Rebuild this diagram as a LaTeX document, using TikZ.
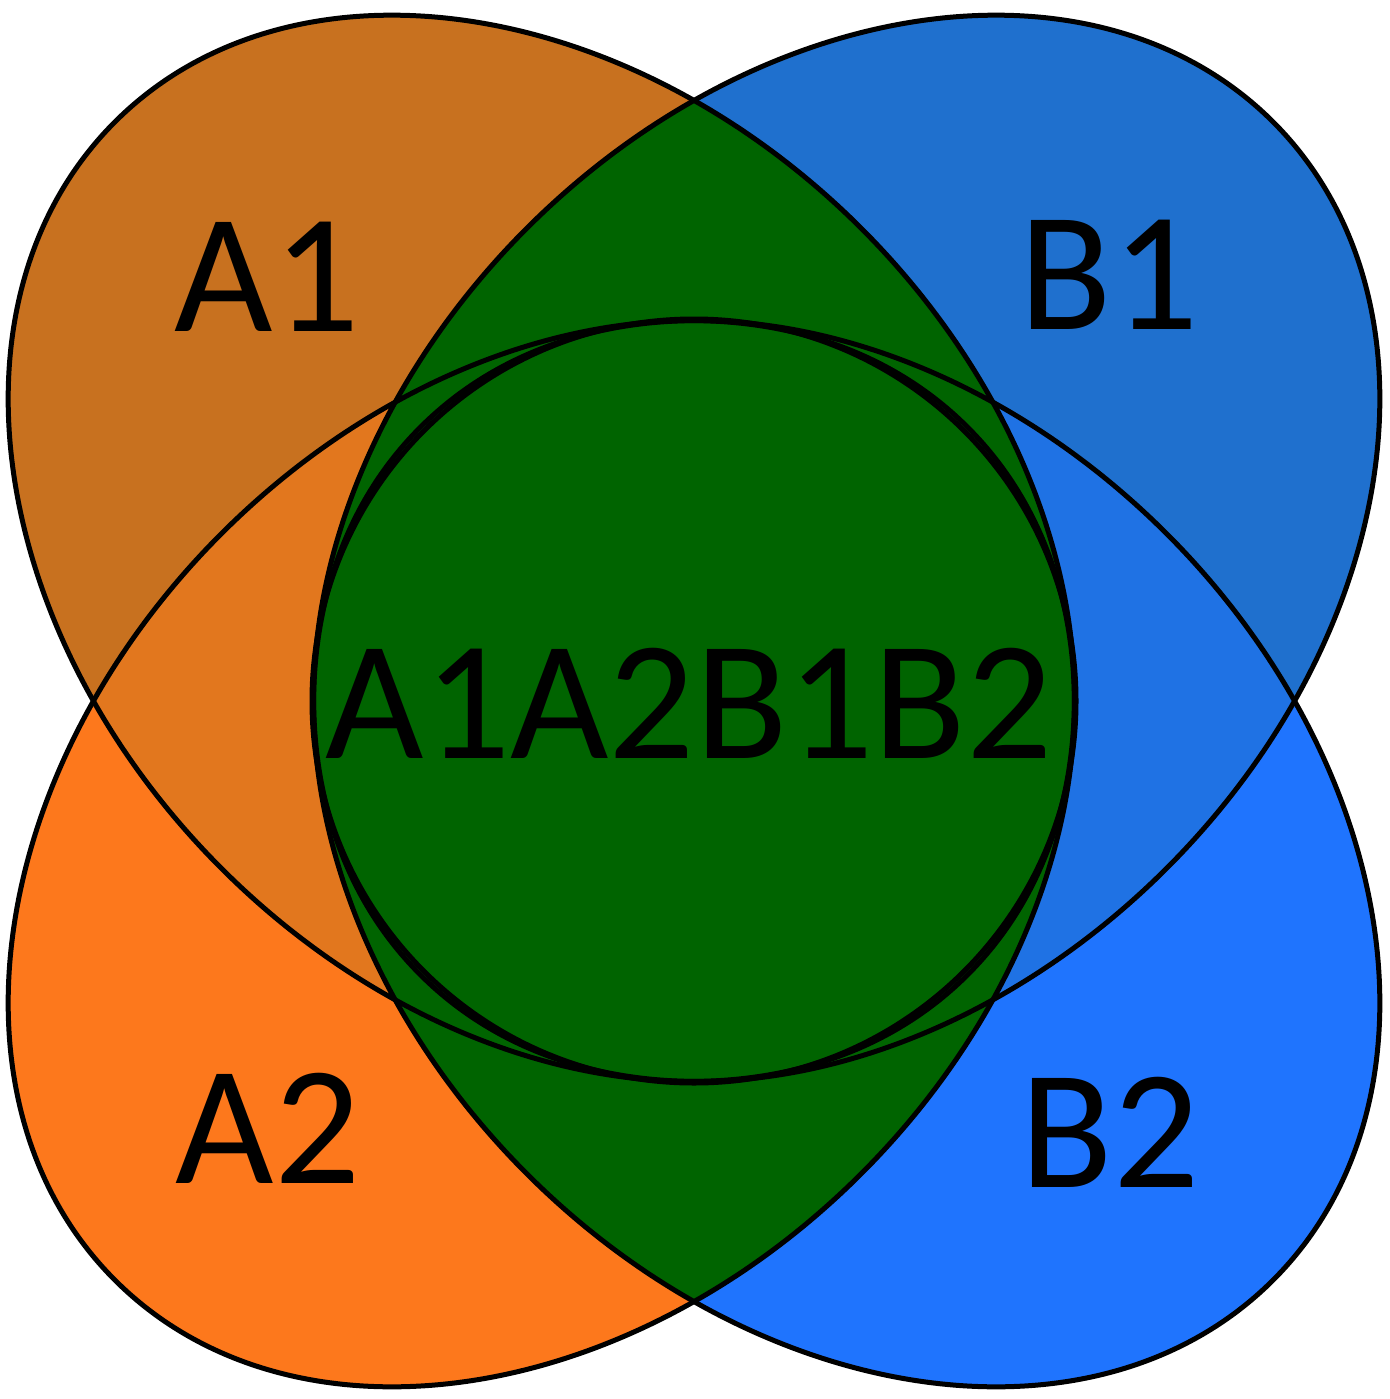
\documentclass[tikz,border=0pt]{standalone}
\usepackage{fontspec}
\setmainfont{Carlito}
\definecolor{cAone}{HTML}{C8711F}
\definecolor{cAtwo}{HTML}{FD781C}
\definecolor{cAA}{HTML}{E2771E}
\definecolor{cBone}{HTML}{1F70CE}
\definecolor{cBtwo}{HTML}{1F74FE}
\definecolor{cBB}{HTML}{1F72E4}
\definecolor{cGreen}{HTML}{006400}
\newcommand\ellAone{{[rotate around={-45:(541.3,548.3)}] (541.3,548.3) ellipse [x radius=603, y radius=452.5]}}
\newcommand\ellBtwo{{[rotate around={-45:(846.7,853.7)}] (846.7,853.7) ellipse [x radius=603, y radius=452.5]}}
\newcommand\ellBone{{[rotate around={45:(846.7,548.3)}] (846.7,548.3) ellipse [x radius=603, y radius=452.5]}}
\newcommand\ellAtwo{{[rotate around={45:(541.3,853.7)}] (541.3,853.7) ellipse [x radius=603, y radius=452.5]}}
\tikzset{
  outline/.style={draw=black, line width=5pt},
  lbl/.style={font=\fontsize{170}{170}\selectfont, text=black, inner sep=0pt, anchor=base}
}
\begin{document}
\begin{tikzpicture}[x=1pt, y=-1pt]
\useasboundingbox (0,0) rectangle (1389,1399);
% base fills
\fill[cAone] \ellAone;
\fill[cAtwo] \ellAtwo;
\fill[cBone] \ellBone;
\fill[cBtwo] \ellBtwo;
\begin{scope}
  \clip \ellAone;
  \fill[cAA] \ellAtwo;
\end{scope}
\begin{scope}
  \clip \ellBone;
  \fill[cBB] \ellBtwo;
\end{scope}
\begin{scope}
  \clip \ellAone \ellAtwo;
  \fill[cGreen] \ellBone \ellBtwo;
\end{scope}
\fill[cGreen] (694,701) circle [radius=382];
% outlines
\draw[outline] \ellAone;
\draw[outline] \ellAtwo;
\draw[outline] \ellBone;
\draw[outline] \ellBtwo;
\draw[outline] (694,701) circle [radius=382];
% labels
\node[lbl] (a1) at (267,331) {A1};
\node[lbl] (b1) at (1109,329) {B1};
\node[lbl] (a2) at (268,1183) {A2};
\node[lbl] (b2) at (1110,1187) {B2};
\node[lbl] (all) at (689,758) {A1A2B1B2};
\end{tikzpicture}
\end{document}
